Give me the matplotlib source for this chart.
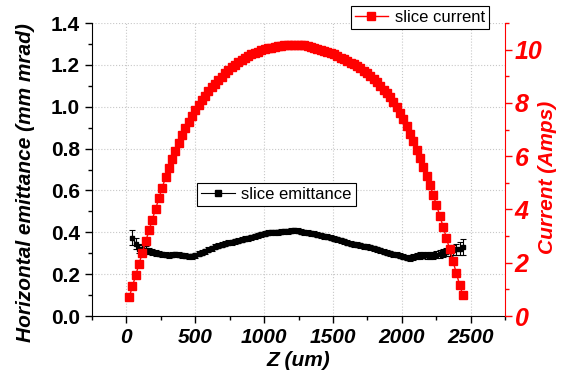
import matplotlib
matplotlib.use("Agg")
import matplotlib.pyplot as plt
from matplotlib.ticker import MultipleLocator
from matplotlib.lines import Line2D

# slice positions (um) and current (A)
z_cur = [20, 44, 68, 92, 116, 140, 164, 188, 212, 236, 260, 284, 308, 332, 356, 380, 404, 428,
         452, 476, 500, 524, 548, 572, 596, 620, 644, 668, 692, 716, 740, 764, 788, 812, 836,
         860, 884, 908, 932, 956, 980, 1004, 1028, 1052, 1076, 1100, 1124, 1148, 1172, 1196,
         1220, 1244, 1268, 1292, 1316, 1340, 1364, 1388, 1412, 1436, 1460, 1484, 1508, 1532,
         1556, 1580, 1604, 1628, 1652, 1676, 1700, 1724, 1748, 1772, 1796, 1820, 1844, 1868,
         1892, 1916, 1940, 1964, 1988, 2012, 2036, 2060, 2084, 2108, 2132, 2156, 2180, 2204,
         2228, 2252, 2276, 2300, 2324, 2348, 2372, 2396, 2420, 2444]
current = [0.70, 1.12, 1.54, 1.96, 2.38, 2.80, 3.21, 3.62, 4.02, 4.42, 4.82, 5.20, 5.55, 5.88,
           6.20, 6.50, 6.78, 7.04, 7.28, 7.50, 7.72, 7.92, 8.10, 8.27, 8.43, 8.58, 8.72, 8.86,
           8.99, 9.11, 9.23, 9.34, 9.44, 9.53, 9.61, 9.69, 9.76, 9.82, 9.88, 9.93, 9.97, 10.01,
           10.05, 10.08, 10.11, 10.13, 10.15, 10.17, 10.18, 10.19, 10.19, 10.19, 10.18, 10.16,
           10.14, 10.11, 10.07, 10.03, 10.00, 9.96, 9.92, 9.87, 9.82, 9.76, 9.70, 9.64, 9.58,
           9.51, 9.45, 9.38, 9.30, 9.21, 9.11, 9.00, 8.89, 8.77, 8.64, 8.50, 8.36, 8.21, 8.05,
           7.86, 7.62, 7.38, 7.12, 6.85, 6.56, 6.25, 5.93, 5.60, 5.27, 4.93, 4.55, 4.17, 3.77,
           3.36, 2.94, 2.50, 2.06, 1.62, 1.18, 0.78]

# slice emittance (mm mrad) with error
z_emit = z_cur[1:]
emittance = [0.375, 0.345, 0.322, 0.318, 0.315, 0.310, 0.305, 0.300, 0.298, 0.295, 0.292, 0.290,
             0.292, 0.295, 0.293, 0.290, 0.287, 0.285, 0.286, 0.290, 0.297, 0.303, 0.310, 0.317,
             0.323, 0.330, 0.336, 0.341, 0.345, 0.349, 0.352, 0.356, 0.360, 0.364, 0.368, 0.372,
             0.376, 0.381, 0.386, 0.390, 0.394, 0.397, 0.399, 0.400, 0.401, 0.402, 0.404, 0.406,
             0.408, 0.409, 0.407, 0.403, 0.399, 0.397, 0.395, 0.392, 0.389, 0.386, 0.382, 0.378,
             0.374, 0.370, 0.366, 0.361, 0.356, 0.350, 0.346, 0.343, 0.340, 0.337, 0.334, 0.331,
             0.328, 0.324, 0.319, 0.313, 0.308, 0.303, 0.299, 0.296, 0.293, 0.289, 0.284, 0.279,
             0.277, 0.280, 0.285, 0.289, 0.291, 0.290, 0.288, 0.290, 0.293, 0.297, 0.301, 0.305,
             0.310, 0.314, 0.318, 0.322, 0.330]
emit_err = [0.035, 0.026, 0.022, 0.02, 0.018, 0.016, 0.015, 0.014, 0.013, 0.012, 0.012, 0.012,
            0.012, 0.012, 0.012, 0.012, 0.012, 0.012, 0.012, 0.012, 0.012, 0.012, 0.012, 0.012,
            0.012, 0.012, 0.012, 0.012, 0.012, 0.012, 0.012, 0.012, 0.012, 0.012, 0.012, 0.012,
            0.012, 0.012, 0.012, 0.012, 0.012, 0.012, 0.012, 0.012, 0.012, 0.012, 0.012, 0.012,
            0.012, 0.012, 0.012, 0.012, 0.012, 0.012, 0.012, 0.012, 0.012, 0.012, 0.012, 0.012,
            0.012, 0.012, 0.012, 0.012, 0.012, 0.012, 0.012, 0.012, 0.012, 0.012, 0.012, 0.012,
            0.012, 0.012, 0.012, 0.012, 0.012, 0.012, 0.012, 0.012, 0.013, 0.013, 0.013, 0.013,
            0.014, 0.014, 0.014, 0.015, 0.015, 0.016, 0.016, 0.017, 0.017, 0.018, 0.019, 0.02,
            0.021, 0.023, 0.026, 0.03, 0.04]

plt.rcParams['font.family'] = ['Liberation Sans', 'DejaVu Sans']

fig = plt.figure(figsize=(5.61, 3.73), dpi=100)
ax = fig.add_axes([92/561, 1-316/373, 413/561, 293/373])
ax2 = ax.twinx()

ax.errorbar(z_emit, emittance, yerr=emit_err, color='black', marker='s', markersize=3,
            linewidth=0.9, elinewidth=0.8, capsize=2, capthick=0.8)
ax2.plot(z_cur, current, color='red', marker='s', markersize=5.5, linewidth=1)

ax.set_xlim(-250, 2750)
ax.set_ylim(0, 1.4)
ax2.set_ylim(0, 11)

ax.xaxis.set_major_locator(MultipleLocator(500))
ax.xaxis.set_minor_locator(MultipleLocator(250))
ax.yaxis.set_major_locator(MultipleLocator(0.2))
ax.yaxis.set_minor_locator(MultipleLocator(0.1))
ax2.yaxis.set_major_locator(MultipleLocator(2))
ax2.yaxis.set_minor_locator(MultipleLocator(1))

ax.grid(True, which='major', color='#c8c8c8', linestyle=':', linewidth=0.8)

for a in (ax, ax2):
    a.spines['top'].set_visible(False)
ax.spines['right'].set_visible(False)
ax2.spines['left'].set_visible(False)
ax2.spines['bottom'].set_visible(False)
ax2.spines['right'].set_color('red')

ax.tick_params(axis='both', which='major', direction='out', length=5, width=1)
ax.tick_params(axis='both', which='minor', direction='out', length=3, width=1)
ax2.tick_params(axis='y', which='major', direction='out', length=5, width=1, colors='red', pad=2)
ax2.tick_params(axis='y', which='minor', direction='out', length=3, width=1, colors='red')

ax.set_yticks([0, 0.2, 0.4, 0.6, 0.8, 1.0, 1.2, 1.4])
ax.set_yticklabels(['0.0', '0.2', '0.4', '0.6', '0.8', '1.0', '1.2', '1.4'],
                   fontsize=15, fontweight='bold')
ax.set_xticks([0, 500, 1000, 1500, 2000, 2500])
ax.set_xticklabels(['0', '500', '1000', '1500', '2000', '2500'],
                   fontsize=15, fontweight='bold', fontstyle='italic')
ax2.set_yticks([0, 2, 4, 6, 8, 10])
ax2.set_yticklabels(['0', '2', '4', '6', '8', '10'], fontsize=18, fontweight='bold',
                    fontstyle='italic', color='red')

ax.set_xlabel('Z (um)', fontsize=15, fontweight='bold', fontstyle='italic', labelpad=3)
ax.set_ylabel('Horizontal emittance (mm mrad)', fontsize=15, fontweight='bold',
              fontstyle='italic')
ax.yaxis.set_label_coords(-0.138, 0.457)
ax2.set_ylabel('Current (Amps)', fontsize=15, fontweight='bold', fontstyle='italic',
               color='red')
ax2.yaxis.set_label_coords(1.080, 0.474)

h_cur = Line2D([], [], color='red', marker='s', markersize=6, linewidth=1)
h_emit = Line2D([], [], color='black', marker='s', markersize=4, linewidth=0.8)
leg1 = fig.legend([h_cur], ['slice current'], loc='upper right',
                  bbox_to_anchor=(489/561, 1-6/373), fontsize=12, fancybox=False,
                  edgecolor='black', framealpha=1, borderpad=0.25, handletextpad=0.4,
                  borderaxespad=0)
leg1.get_frame().set_linewidth(0.8)
leg2 = fig.legend([h_emit], ['slice emittance'], loc='upper left',
                  bbox_to_anchor=(197/561, 1-183/373), fontsize=12, fancybox=False,
                  edgecolor='black', framealpha=1, borderpad=0.25, handletextpad=0.4,
                  borderaxespad=0)
leg2.get_frame().set_linewidth(0.8)

fig.savefig('out.png', dpi=100)
